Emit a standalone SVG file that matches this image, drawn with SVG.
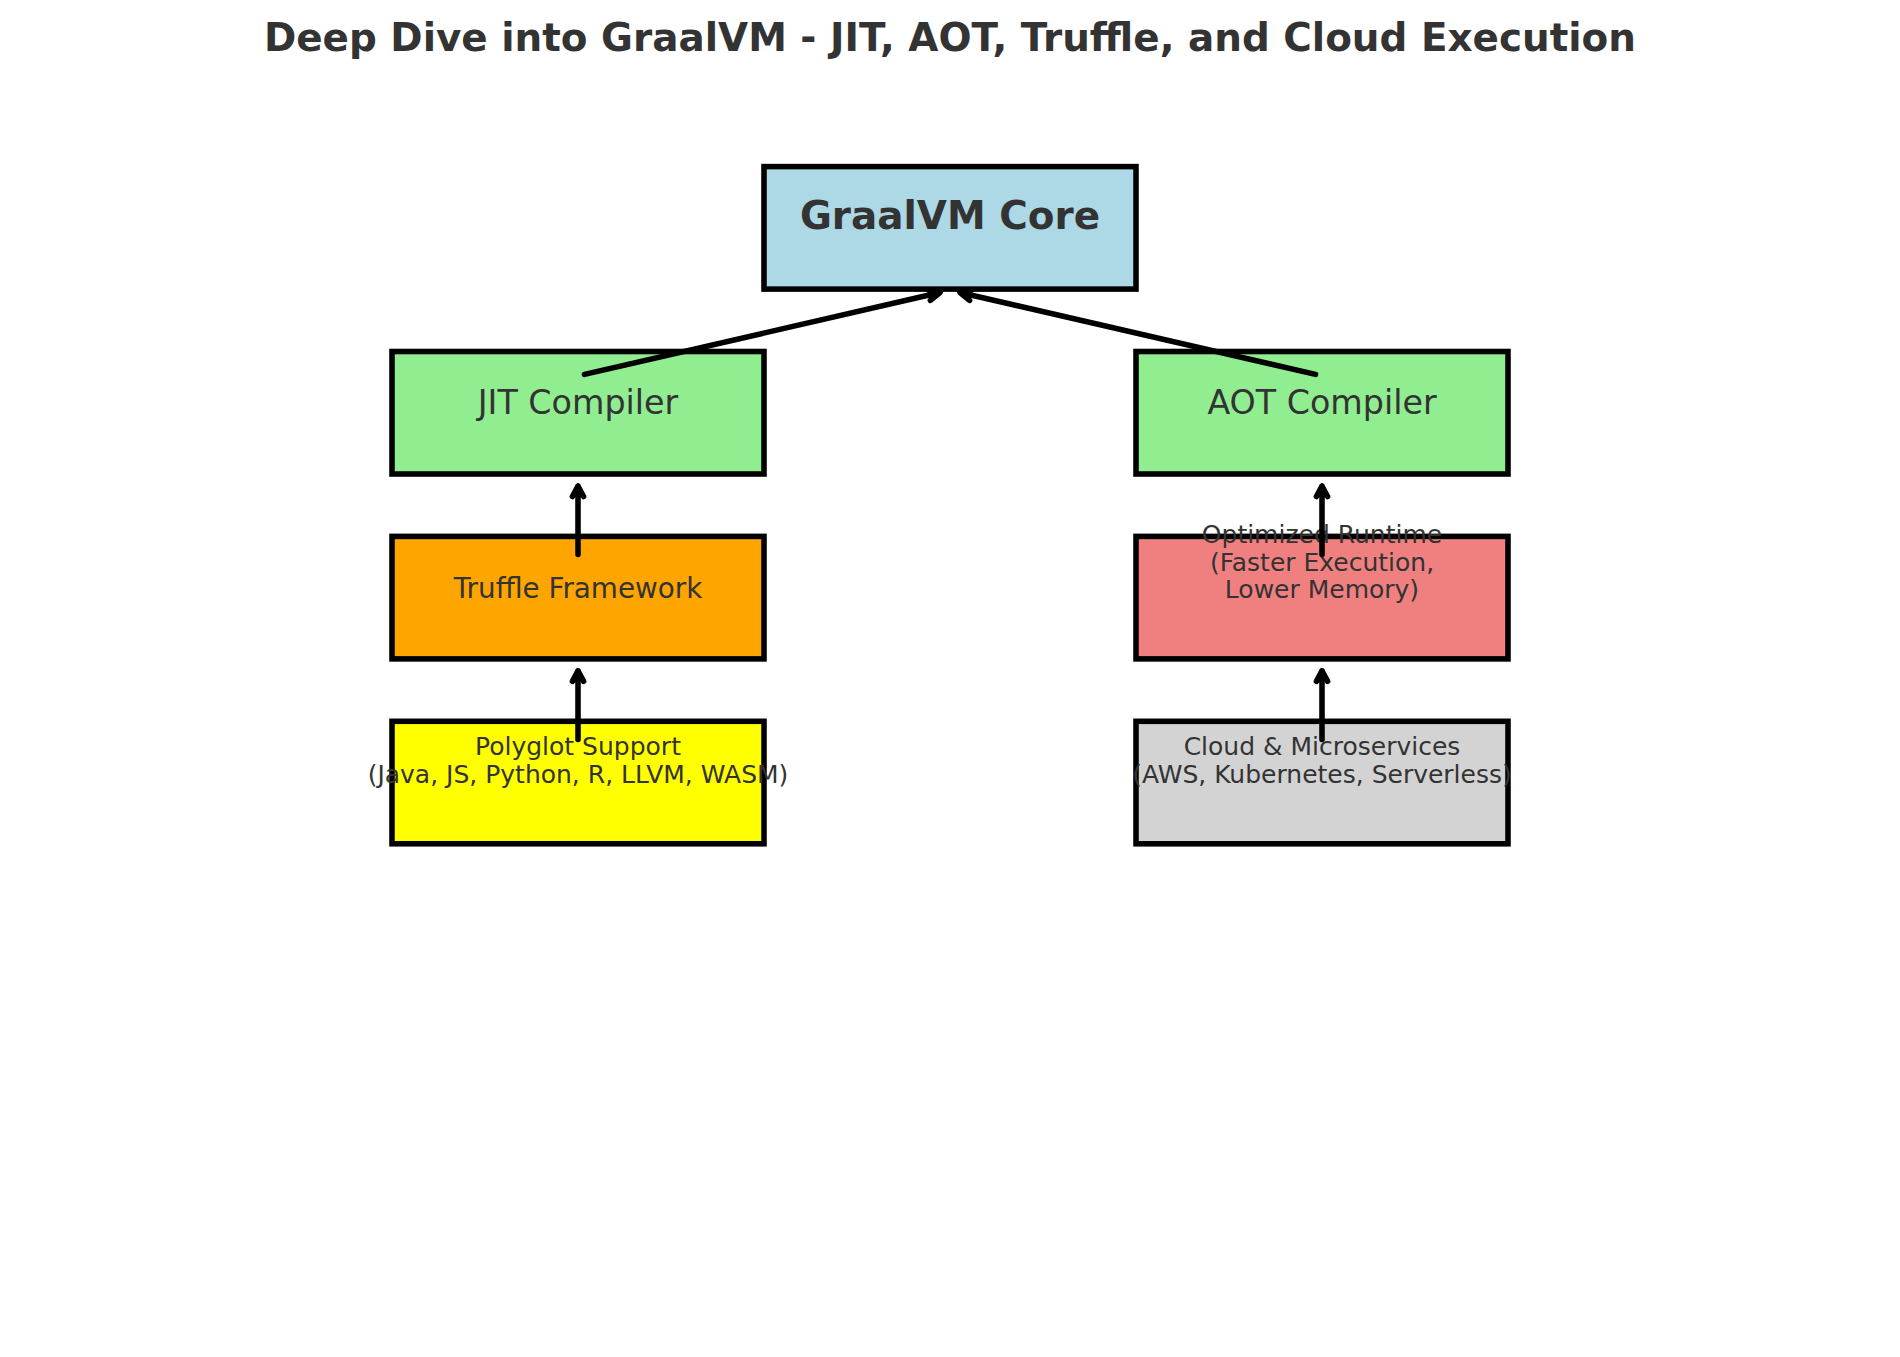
<svg xmlns="http://www.w3.org/2000/svg" width="1900" height="1357" viewBox="0 0 1900 1357">
<style>
  .box { stroke: #000000; stroke-width: 5.56; }
  .t { font-family: "DejaVu Sans", "Liberation Sans", sans-serif; fill: #333333; text-anchor: middle; }
  .title { font-size: 38.9px; font-weight: bold; }
  .core { font-size: 38.9px; font-weight: bold; }
  .l { font-size: 33.3px; }
  .m { font-size: 27.8px; }
  .s { font-size: 25px; }
  .arr { fill: none; stroke: #000000; stroke-width: 5.56; stroke-linecap: round; stroke-linejoin: round; }
</style>
<rect x="0" y="0" width="1900" height="1357" fill="#ffffff"/>
<text class="t title" x="950" y="50.7">Deep Dive into GraalVM - JIT, AOT, Truffle, and Cloud Execution</text>

<g id="node-core">
  <rect class="box" x="764" y="166.6" width="372" height="122.5" fill="#ADD8E6"/>
  <text class="t core" x="950" y="228.8">GraalVM Core</text>
</g>
<g id="node-jit">
  <rect class="box" x="392" y="351.5" width="372" height="122.5" fill="#90EE90"/>
  <text class="t l" x="578" y="413.8">JIT Compiler</text>
</g>
<g id="node-aot">
  <rect class="box" x="1136" y="351.5" width="372" height="122.5" fill="#90EE90"/>
  <text class="t l" x="1322" y="413.8">AOT Compiler</text>
</g>
<g id="node-truffle">
  <rect class="box" x="392" y="536.4" width="372" height="122.5" fill="#FFA500"/>
  <text class="t m" x="578" y="598.4">Truffle Framework</text>
</g>
<g id="node-runtime">
  <rect class="box" x="1136" y="536.4" width="372" height="122.5" fill="#F08080"/>
  <text class="t s" x="1322" y="542.7">Optimized Runtime</text>
  <text class="t s" x="1322" y="570.5">(Faster Execution,</text>
  <text class="t s" x="1322" y="598.3">Lower Memory)</text>
</g>
<g id="node-polyglot">
  <rect class="box" x="392" y="721.3" width="372" height="122.5" fill="#FFFF00"/>
  <text class="t s" x="578" y="755.3">Polyglot Support</text>
  <text class="t s" x="578" y="783.4">(Java, JS, Python, R, LLVM, WASM)</text>
</g>
<g id="node-cloud">
  <rect class="box" x="1136" y="721.3" width="372" height="122.5" fill="#D3D3D3"/>
  <text class="t s" x="1322" y="755.3">Cloud &amp; Microservices</text>
  <text class="t s" x="1322" y="783.4">(AWS, Kubernetes, Serverless)</text>
</g>

<g id="connectors">
  <path class="arr" d="M584.5 374.4 L940 292.5 M930.4 300.4 L940 292.5 L927.9 289.6"/>
  <path class="arr" d="M1315.5 374.4 L960 292.5 M969.6 300.4 L960 292.5 L972.1 289.6"/>
  <path class="arr" d="M578 554.5 L578 486 M572.4 496.5 L578 486 L583.6 496.5"/>
  <path class="arr" d="M578 739.4 L578 670.9 M572.4 681.4 L578 670.9 L583.6 681.4"/>
  <path class="arr" d="M1322 554.5 L1322 486 M1316.4 496.5 L1322 486 L1327.6 496.5"/>
  <path class="arr" d="M1322 739.4 L1322 670.9 M1316.4 681.4 L1322 670.9 L1327.6 681.4"/>
</g>
</svg>
